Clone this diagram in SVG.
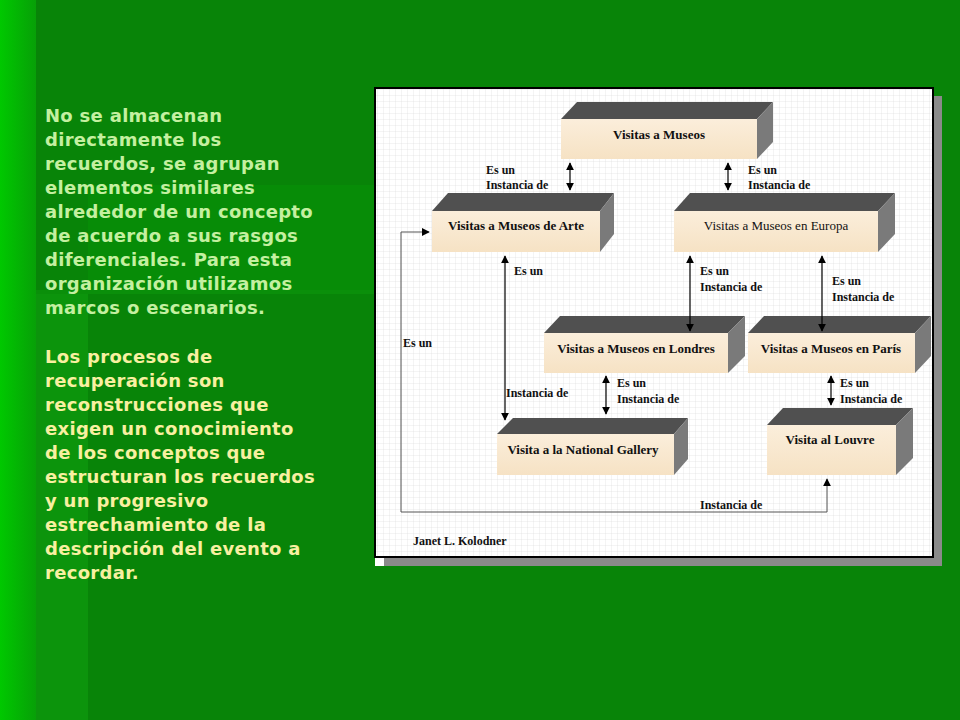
<svg xmlns="http://www.w3.org/2000/svg" width="960" height="720" viewBox="0 0 960 720">
<defs>
<linearGradient id="lg" x1="0" x2="1" y1="0" y2="0"><stop offset="0" stop-color="#00c800"/><stop offset="1" stop-color="#07a007"/></linearGradient>
<linearGradient id="front" x1="0" x2="0" y1="0" y2="1"><stop offset="0" stop-color="#fbeedb"/><stop offset="1" stop-color="#f6e2c4"/></linearGradient>
<pattern id="grid" width="6" height="6" patternUnits="userSpaceOnUse"><rect width="6" height="6" fill="#fff"/><path d="M6 0V6H0" fill="none" stroke="#dcdcdc" stroke-width="0.6"/></pattern>
<marker id="ah" viewBox="0 0 10 10" refX="9" refY="5" markerWidth="8" markerHeight="8" markerUnits="userSpaceOnUse" orient="auto-start-reverse"><path d="M0 0L10 5L0 10z" fill="#000"/></marker>
<style>
.t{font-family:Verdana,"DejaVu Sans",sans-serif;font-weight:bold;font-size:18px;letter-spacing:0.3px}
.n{font-family:"Liberation Serif",serif;font-weight:bold;font-size:13px;text-anchor:middle;fill:#111}
.l{font-family:"Liberation Serif",serif;font-weight:bold;font-size:12px;fill:#111}
.top{fill:#505050}.side{fill:#7a7a7a}.fr{fill:url(#front)}
.c{fill:none;stroke:#000;stroke-width:1.2}
.g{fill:none;stroke:#555;stroke-width:1}
</style>
</defs>
<rect width="960" height="720" fill="#088408"/>
<rect x="0" y="0" width="36" height="720" fill="url(#lg)"/>
<rect x="36" y="290" width="52" height="430" fill="#0c940c"/>
<rect x="88" y="185" width="287" height="105" fill="#078c07"/>
<rect x="36" y="290" width="339" height="4" fill="#0a8f0a"/>
<g id="text">
<g class="t" fill="#c4f0a0">
<text x="45" y="122">No se almacenan</text>
<text x="45" y="146">directamente los</text>
<text x="45" y="170">recuerdos, se agrupan</text>
<text x="45" y="194">elementos similares</text>
<text x="45" y="218">alrededor de un concepto</text>
<text x="45" y="242">de acuerdo a sus rasgos</text>
<text x="45" y="266">diferenciales. Para esta</text>
<text x="45" y="290">organización utilizamos</text>
<text x="45" y="314">marcos o escenarios.</text>
</g>
<g class="t" fill="#f8f0a0">
<text x="45" y="363">Los procesos de</text>
<text x="45" y="387">recuperación son</text>
<text x="45" y="411">reconstrucciones que</text>
<text x="45" y="435">exigen un conocimiento</text>
<text x="45" y="459">de los conceptos que</text>
<text x="45" y="483">estructuran los recuerdos</text>
<text x="45" y="507">y un progresivo</text>
<text x="45" y="531">estrechamiento de la</text>
<text x="45" y="555">descripción del evento a</text>
<text x="45" y="579">recordar.</text>
</g>
</g>
<g id="panel">
<rect x="383" y="96" width="559" height="470" fill="#8a8a8a"/>
<rect x="375" y="557" width="9" height="9" fill="#fff"/>
<rect x="375" y="88" width="558" height="469" fill="url(#grid)" stroke="#000" stroke-width="2"/>
</g>
<g id="n1"><polygon class="top" points="561,119 577,102 773,102 757,119"/><polygon class="side" points="757,119 773,102 773,142 757,159"/><rect class="fr" x="561" y="119" width="196" height="40"/><text class="n" x="659" y="139">Visitas a Museos</text></g>
<g id="n2"><polygon class="top" points="432,211 448,193 614,193 600,211"/><polygon class="side" points="600,211 614,193 614,234 600,252"/><rect class="fr" x="432" y="211" width="168" height="41"/><text class="n" x="516" y="230">Visitas a Museos de Arte</text></g>
<g id="n3"><polygon class="top" points="674,211 690,193 895,193 878,211"/><polygon class="side" points="878,211 895,193 895,234 878,252"/><rect class="fr" x="674" y="211" width="204" height="41"/><text class="n" x="776" y="230" font-weight="normal" style="font-weight:normal">Visitas a Museos en Europa</text></g>
<g id="n4"><polygon class="top" points="544,333 560,316 745,316 728,333"/><polygon class="side" points="728,333 745,316 745,356 728,373"/><rect class="fr" x="544" y="333" width="184" height="40"/><text class="n" x="636" y="353">Visitas a Museos en Londres</text></g>
<g id="n5"><polygon class="top" points="748,333 764,316 931,316 915,333"/><polygon class="side" points="915,333 931,316 931,356 915,373"/><rect class="fr" x="748" y="333" width="167" height="40"/><text class="n" x="831" y="353">Visitas a Museos en París</text></g>
<g id="n6"><polygon class="top" points="497,434 513,418 688,418 674,434"/><polygon class="side" points="674,434 688,418 688,459 674,475"/><rect class="fr" x="497" y="434" width="177" height="41"/><text class="n" x="583" y="454">Visita a la National Gallery</text></g>
<g id="n7"><polygon class="top" points="767,425 783,408 913,408 896,425"/><polygon class="side" points="896,425 913,408 913,458 896,475"/><rect class="fr" x="767" y="425" width="129" height="50"/><text class="n" x="830" y="444">Visita al Louvre</text></g>
<g id="connectors">
<line class="c" x1="570" y1="163" x2="570" y2="190" marker-start="url(#ah)" marker-end="url(#ah)"/>
<line class="c" x1="728" y1="163" x2="728" y2="190" marker-start="url(#ah)" marker-end="url(#ah)"/>
<line class="c" x1="505" y1="256" x2="505" y2="420" marker-start="url(#ah)" marker-end="url(#ah)"/>
<line class="c" x1="690" y1="256" x2="690" y2="331" marker-start="url(#ah)" marker-end="url(#ah)"/>
<line class="c" x1="822" y1="256" x2="822" y2="331" marker-start="url(#ah)" marker-end="url(#ah)"/>
<line class="c" x1="606" y1="376" x2="606" y2="414" marker-start="url(#ah)" marker-end="url(#ah)"/>
<line class="c" x1="831" y1="376" x2="831" y2="405" marker-start="url(#ah)" marker-end="url(#ah)"/>
<polyline class="g" points="827,479 827,512 401,512 401,232 429,232" marker-start="url(#ah)" marker-end="url(#ah)"/>
</g>
<g id="labels">
<text class="l" x="486" y="174">Es un</text><text class="l" x="486" y="189">Instancia de</text>
<text class="l" x="748" y="174">Es un</text><text class="l" x="748" y="189">Instancia de</text>
<text class="l" x="514" y="275">Es un</text><text class="l" x="506" y="397">Instancia de</text>
<text class="l" x="700" y="275">Es un</text><text class="l" x="700" y="291">Instancia de</text>
<text class="l" x="832" y="285">Es un</text><text class="l" x="832" y="301">Instancia de</text>
<text class="l" x="617" y="387">Es un</text><text class="l" x="617" y="403">Instancia de</text>
<text class="l" x="840" y="387">Es un</text><text class="l" x="840" y="403">Instancia de</text>
<text class="l" x="403" y="347">Es un</text>
<text class="l" x="700" y="509">Instancia de</text>
<text class="l" x="413" y="545">Janet L. Kolodner</text>
</g>
</svg>
